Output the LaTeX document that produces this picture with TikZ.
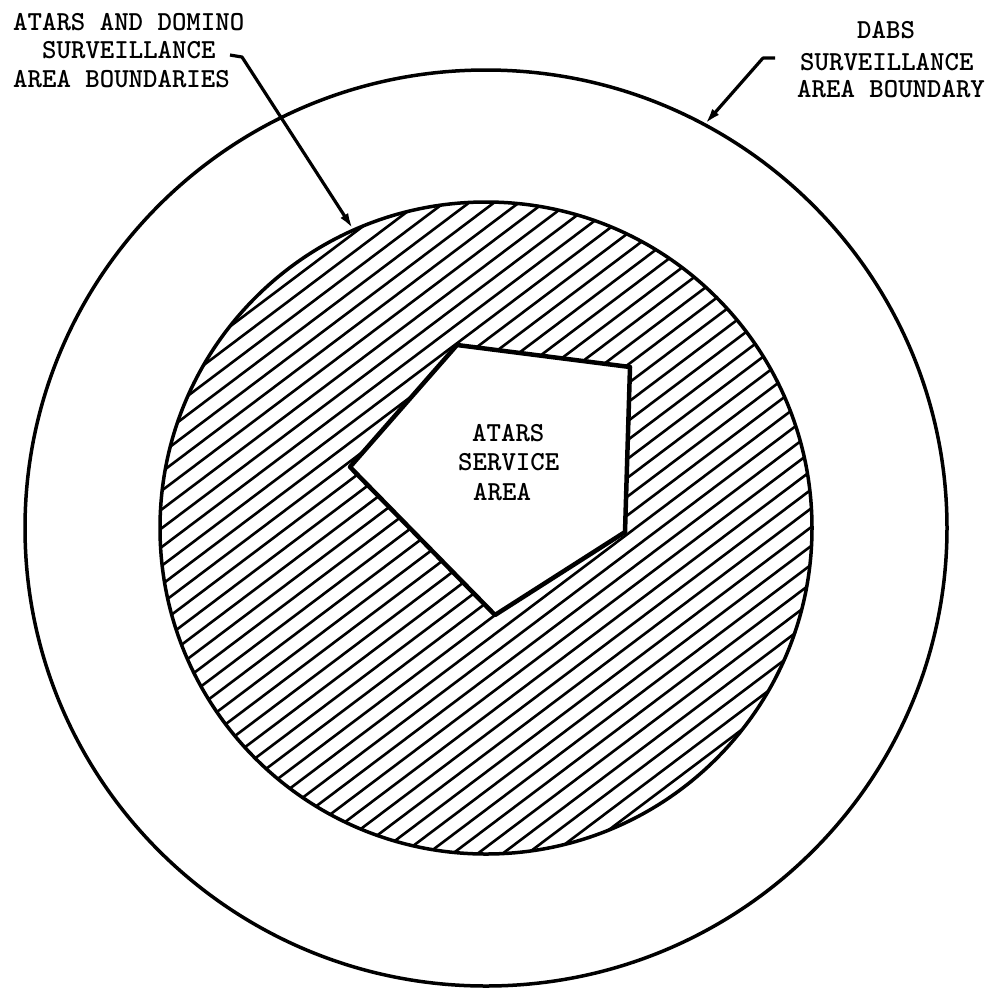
\documentclass[tikz,border=0pt]{standalone}
\usetikzlibrary{arrows.meta}
\begin{document}
\begin{tikzpicture}[x=1pt,y=-1pt,
  lbl/.style={font=\ttfamily\bfseries\fontsize{27.5}{29}\selectfont, inner sep=0pt, anchor=base west},
  bound/.style={line width=3.5pt},
  hatch/.style={line width=2.6pt},
  pent/.style={line width=4.5pt, fill=white, line join=round},
  leader/.style={line width=3.2pt, line join=round, -{Latex[length=16pt,width=9pt]}}]
\useasboundingbox (0,0) rectangle (990,989);
\fill[white] (0,0) rectangle (990,989);
\coordinate (C) at (486,528);
% hatching of the surveillance area
\begin{scope}
  \clip (C) circle (326pt);
  \begin{scope}[shift={(486,528)}, rotate=37]
    \foreach \k in {-23,...,23} \draw[hatch] (-360,\k*15) -- (360,\k*15);
  \end{scope}
\end{scope}
% boundaries
\draw[bound] (C) circle (326pt);
\draw[bound] (C) ellipse [x radius=461pt, y radius=458pt];
% service area pentagon
\coordinate (p1) at (457,345);
\coordinate (p2) at (630,367);
\coordinate (p3) at (625,532);
\coordinate (p4) at (495,615);
\coordinate (p5) at (350,467);
\draw[pent] (p1) -- (p2) -- (p3) -- (p4) -- (p5) -- cycle;
% texts
\node[lbl] (s1) at (472,441) {ATARS};
\node[lbl] (s2) at (458,470) {SERVICE};
\node[lbl] (s3) at (473,500) {AREA};
\node[lbl] (l1) at (13,30) {ATARS AND DOMINO};
\node[lbl] (l2) at (42,58) {SURVEILLANCE};
\node[lbl] (l3) at (13,87) {AREA BOUNDARIES};
\node[lbl] (r1) at (857,38) {DABS};
\node[lbl] (r2) at (800,70) {SURVEILLANCE};
\node[lbl] (r3) at (797,97) {AREA BOUNDARY};
% leaders
\coordinate (la) at (230,55);
\coordinate (lb) at (242,57);
\coordinate (lt) at (353,229);
\draw[leader] (la) -- (lb) -- (lt);
\coordinate (ra) at (775,58);
\coordinate (rb) at (763,58);
\coordinate (rt) at (705,124);
\draw[leader] (ra) -- (rb) -- (rt);
\end{tikzpicture}
\end{document}
